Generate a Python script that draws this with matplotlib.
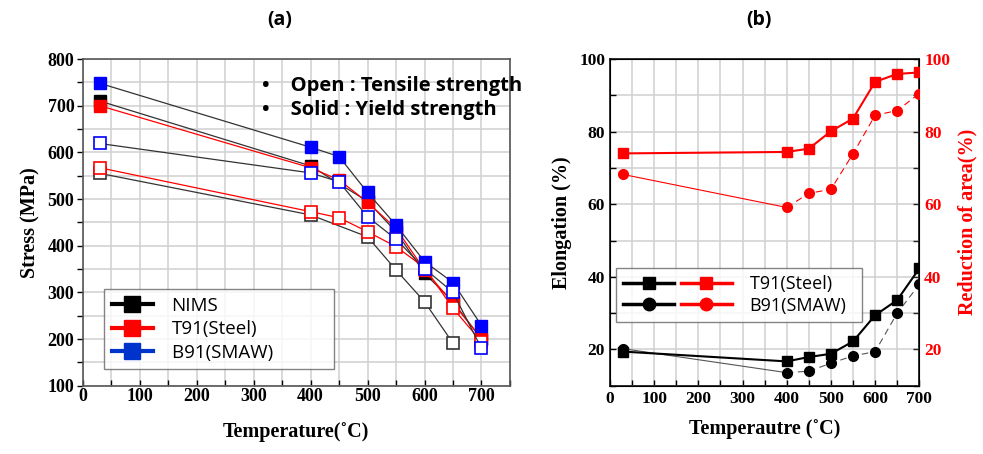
import matplotlib
matplotlib.use("Agg")
import matplotlib.pyplot as plt
from matplotlib.ticker import MultipleLocator
from matplotlib.legend_handler import HandlerTuple
from matplotlib.lines import Line2D

# ---------------- data: panel (a) ----------------
temps_all = [30, 400, 450, 500, 550, 600, 650, 700]
nims_solid_t = [30, 400, 500, 550, 600, 650, 700]
nims_solid = [710, 571, 495, 430, 341, 280, 200]
nims_open_t = [30, 400, 500, 550, 600, 650]
nims_open = [555, 466, 419, 348, 280, 191]
t91_solid = [700, 567, 541, 493, 437, 348, 277, 201]
t91_open = [567, 473, 460, 430, 398, 353, 266, 194]
b91_solid = [748, 611, 591, 514, 444, 366, 321, 229]
b91_open = [619, 556, 537, 462, 414, 351, 300, 180]

# ---------------- data: panel (b) ----------------
t91_ra = [74.0, 74.4, 75.3, 80.1, 83.6, 93.7, 95.9, 96.3]
b91_ra = [68.2, 59.1, 63.0, 64.1, 73.9, 84.5, 85.8, 90.5]
t91_el = [19.4, 16.7, 17.9, 18.8, 22.2, 29.4, 33.6, 42.3]
b91_el = [20.2, 13.6, 14.0, 16.2, 18.2, 19.4, 30.0, 37.9]

SERIF = "Liberation Serif"
SANS = ["Open Sans", "DejaVu Sans"]
BLUE = "#0000ff"
RED = "#ff0000"
GRID = "#d0d0d0"

plt.rcParams["font.family"] = [SERIF, "DejaVu Serif"]
plt.rcParams["font.weight"] = "bold"
plt.rcParams["axes.labelweight"] = "bold"
plt.rcParams["font.size"] = 12.5

fig = plt.figure(figsize=(9.83, 4.54), dpi=100)

# ---------------- panel (a) ----------------
axa = fig.add_axes([0.0841, 0.1504, 0.4347, 0.7196])
axa.set_xlim(0, 750)
axa.set_ylim(100, 800)
axa.xaxis.set_major_locator(MultipleLocator(100))
axa.xaxis.set_minor_locator(MultipleLocator(50))
axa.yaxis.set_major_locator(MultipleLocator(100))
axa.yaxis.set_minor_locator(MultipleLocator(50))
axa.grid(True, which="both", color=GRID, lw=1.1, zorder=0)
axa.tick_params(axis="y", which="both", direction="out", length=4, width=1)
axa.tick_params(axis="x", which="both", direction="in", length=4, width=1)
axa.tick_params(axis="both", which="major", pad=2, labelsize=13)
for s in axa.spines.values():
    s.set_color("#555555")
    s.set_linewidth(1.2)

ms = 8.5
# NIMS
axa.plot(nims_solid_t, nims_solid, "-", color="#333333", lw=0.9, marker="s", ms=ms,
         mfc="black", mec="black", zorder=3)
axa.plot(nims_open_t, nims_open, "-", color="#333333", lw=0.9, marker="s", ms=ms,
         mfc="white", mec="#333333", mew=1.2, zorder=3)
# T91
axa.plot(temps_all, t91_solid, "-", color=RED, lw=0.9, marker="s", ms=ms,
         mfc=RED, mec=RED, zorder=4)
axa.plot(temps_all, t91_open, "-", color=RED, lw=0.9, marker="s", ms=ms,
         mfc="white", mec=RED, mew=1.2, zorder=4)
# B91
axa.plot(temps_all, b91_solid, "-", color="#333333", lw=0.9, marker="s", ms=ms,
         mfc=BLUE, mec=BLUE, zorder=5)
axa.plot(temps_all, b91_open, "-", color="#333333", lw=0.9, marker="s", ms=ms,
         mfc="white", mec=BLUE, mew=1.2, zorder=5)

axa.set_xlabel("Temperature(˚C)", fontsize=14.5, fontweight="bold", labelpad=12)
axa.set_ylabel("Stress (MPa)", fontsize=14.5, fontweight="bold", labelpad=5)

h_a = [Line2D([], [], color=c, lw=3, marker="s", ms=11, mfc=c, mec=c)
       for c in ["black", RED, "#0033cc"]]
leg = axa.legend(h_a, ["NIMS", "T91(Steel)",
                       "B91(SMAW)" + "\u00a0" * 11],
                 loc="lower left",
                 bbox_to_anchor=(0.05, 0.05),
                 prop={"family": SANS, "size": 13.5, "weight": "normal"},
                 frameon=True, fancybox=False, edgecolor="#666666",
                 handlelength=2.2, handletextpad=1.0, labelspacing=0.3,
                 borderpad=0.4, borderaxespad=0)
leg.get_frame().set_linewidth(1.0)
leg.set_zorder(10)

axa.text(0.42, 0.918, "•    Open : Tensile strength", transform=axa.transAxes,
         fontfamily=SANS, fontweight="bold", fontsize=14.5, va="center", ha="left")
axa.text(0.42, 0.845, "•    Solid : Yield strength", transform=axa.transAxes,
         fontfamily=SANS, fontweight="bold", fontsize=14.5, va="center", ha="left")

fig.text(0.285, 0.955, "(a)", fontfamily=SANS, fontweight="bold", fontsize=14,
         ha="center", va="center")

# ---------------- panel (b) ----------------
axb = fig.add_axes([0.6205, 0.1504, 0.3147, 0.7196])
axb.set_xlim(0, 700)
axb.set_ylim(10, 100)
axb.xaxis.set_major_locator(MultipleLocator(100))
axb.xaxis.set_minor_locator(MultipleLocator(50))
axb.yaxis.set_major_locator(MultipleLocator(20))
axb.yaxis.set_minor_locator(MultipleLocator(10))
axb.grid(True, which="both", color=GRID, lw=1.1, zorder=0)
axb.tick_params(axis="both", which="both", direction="in", length=4, width=1)
axb.tick_params(axis="both", which="major", labelsize=12.5)
for s in axb.spines.values():
    s.set_color("#222222")
    s.set_linewidth(1.3)

axr = axb.twinx()
axr.set_ylim(10, 100)
axr.yaxis.set_major_locator(MultipleLocator(20))
axr.yaxis.set_minor_locator(MultipleLocator(10))
axr.tick_params(axis="y", which="both", direction="in", length=4, width=1,
                labelcolor=RED, color="#222222", labelsize=12.5)

# elongation (left)
axb.plot(temps_all, t91_el, "-", color="black", lw=1.5, marker="s", ms=6.5,
         mfc="black", mec="black", zorder=4)
axb.plot(temps_all[:2], b91_el[:2], "-", color="#555555", lw=0.8, zorder=3)
axb.plot(temps_all[1:], b91_el[1:], "--", color="#555555", lw=0.8,
         dashes=(6, 4), zorder=3)
axb.plot(temps_all, b91_el, ls="none", marker="o", ms=7, mfc="black",
         mec="black", zorder=4)
# reduction of area (right)
axr.plot(temps_all, t91_ra, "-", color=RED, lw=1.5, marker="s", ms=6.5,
         mfc=RED, mec=RED, zorder=4)
axr.plot(temps_all[:2], b91_ra[:2], "-", color=RED, lw=0.8, zorder=3)
axr.plot(temps_all[1:], b91_ra[1:], "--", color=RED, lw=0.8, dashes=(6, 4),
         zorder=3)
axr.plot(temps_all, b91_ra, ls="none", marker="o", ms=7, mfc=RED, mec=RED,
         zorder=4)

axb.set_xlabel("Temperautre (˚C)", fontsize=14.5, fontweight="bold", labelpad=9)
axb.set_ylabel("Elongation (%)", fontsize=14.5, fontweight="bold", labelpad=5)
axr.set_ylabel("Reduction of area(%)", fontsize=14.5, fontweight="bold",
               color=RED, labelpad=5)

hb1 = (Line2D([], [], color="black", lw=2.5, marker="s", ms=9, mfc="black", mec="black"),
       Line2D([], [], color=RED, lw=2.5, marker="s", ms=9, mfc=RED, mec=RED))
hb2 = (Line2D([], [], color="black", lw=2.5, marker="o", ms=9, mfc="black", mec="black"),
       Line2D([], [], color=RED, lw=2.5, marker="o", ms=9, mfc=RED, mec=RED))
legb = axr.legend([hb1, hb2], ["T91(Steel)" + "\u00a0" * 5, "B91(SMAW)"],
                  loc="lower left",
                  bbox_to_anchor=(0.02, 0.195),
                  handler_map={tuple: HandlerTuple(ndivide=None, pad=0.4)},
                  prop={"family": SANS, "size": 13, "weight": "normal"},
                  frameon=True, fancybox=False, edgecolor="#666666",
                  handlelength=6.0, handletextpad=1.0, labelspacing=0.2,
                  borderpad=0.4, borderaxespad=0)
legb.get_frame().set_linewidth(1.0)
legb.set_zorder(10)

fig.text(0.772, 0.955, "(b)", fontfamily=SANS, fontweight="bold", fontsize=14,
         ha="center", va="center")

fig.savefig("out.png", dpi=100)
